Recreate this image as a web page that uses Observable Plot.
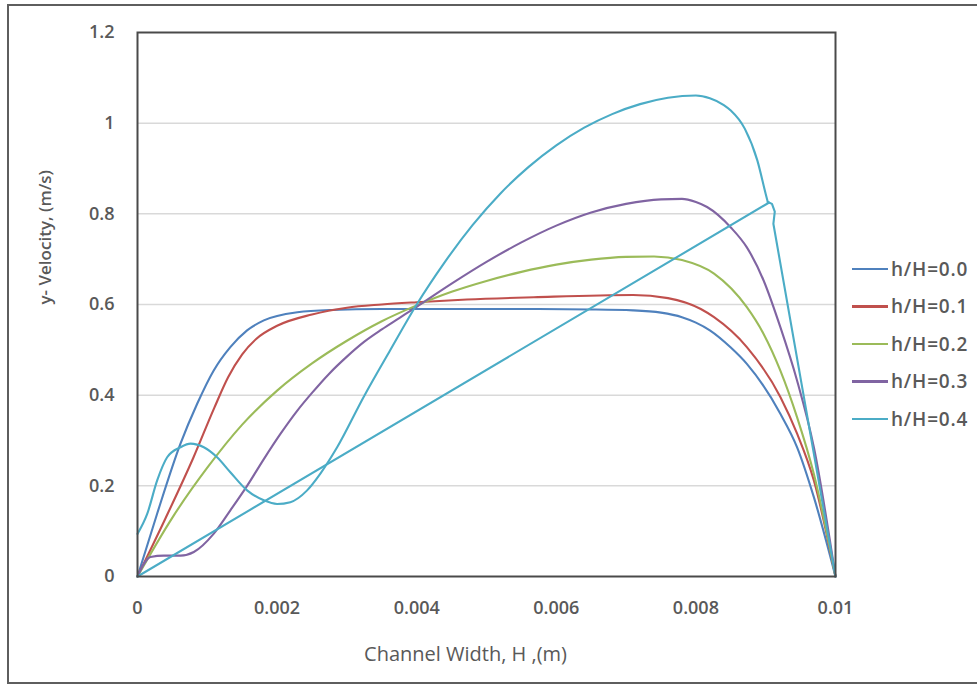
<!DOCTYPE html>
<html>
<head>
<meta charset="utf-8">
<script src="https://cdn.jsdelivr.net/npm/d3@7"></script>
<script src="https://cdn.jsdelivr.net/npm/@observablehq/plot@0.6"></script>
<style>
  body { margin: 0; background: #fff; }
  #chart { position: relative; width: 977px; height: 686px; overflow: hidden; font-family: "Open Sans", sans-serif; }
  #outline { position: absolute; left: 7px; top: 4px; width: 1000px; height: 680px; border: 2px solid #5e5e5e; border-right: none; box-sizing: border-box; pointer-events: none; }
  #legend { position: absolute; left: 852px; top: 250px; }
  .item { display: flex; align-items: center; height: 37.5px; }
  .swatch { width: 36px; height: 2.5px; margin-right: 3px; }
  .name { font-size: 19px; font-weight: 600; color: #595959; letter-spacing: 0.8px; }
</style>
</head>
<body>
<div id="chart"><div id="outline"></div></div>
<script>
// Axis ticks and their labels
const xTicks = [0, 0.002, 0.004, 0.006, 0.008, 0.01];
const xTickLabels = ["0", "0.002", "0.004", "0.006", "0.008", "0.01"];
const yTicks = [0, 0.2, 0.4, 0.6, 0.8, 1.0, 1.2];
const yTickLabels = ["0", "0.2", "0.4", "0.6", "0.8", "1", "1.2"];
const gridValues = [0.2, 0.4, 0.6, 0.8, 1.0];

// Series names and colours
const seriesNames = ["h/H=0.0", "h/H=0.1", "h/H=0.2", "h/H=0.3", "h/H=0.4"];
const seriesColors = ["#4F81BD", "#C0504D", "#9BBB59", "#8064A2", "#4BACC6"];

// y-velocity profiles across the channel: [x (m), v (m/s)]
const hH00 = [[0,0],[0.00028,0.138],[0.000616,0.293],[0.000855,0.381],[0.00109,0.454],[0.00133,0.506],
  [0.00157,0.543],[0.00181,0.565],[0.00229,0.583],[0.00277,0.588],[0.0035,0.59],[0.0045,0.59],
  [0.0055,0.59],[0.0065,0.589],[0.0071,0.587],[0.0075,0.582],[0.0078,0.572],[0.008,0.56],
  [0.0082,0.543],[0.0085,0.505],[0.00873,0.469],[0.00921,0.359],[0.00945,0.285],[0.00969,0.175],[0.01,0]];
const hH01 = [[0,0],[0.0004,0.128],[0.0008,0.262],[0.0011,0.372],[0.0013,0.44],[0.0015,0.49],
  [0.0017,0.524],[0.002,0.553],[0.0025,0.578],[0.003,0.593],[0.0035,0.6],[0.004,0.605],
  [0.00472,0.611],[0.00568,0.616],[0.0071,0.621],[0.0076,0.614],[0.00807,0.59],[0.00826,0.572],
  [0.00873,0.506],[0.00921,0.396],[0.00945,0.315],[0.00969,0.212],[0.01,0]];
const hH02 = [[0,0],[0.0005,0.13],[0.001,0.24],[0.0015,0.335],[0.002,0.41],[0.0025,0.47],
  [0.003,0.52],[0.0035,0.563],[0.004,0.598],[0.0045,0.628],[0.005,0.652],[0.0055,0.672],
  [0.006,0.688],[0.0065,0.699],[0.007,0.705],[0.0074,0.706],[0.0078,0.698],[0.00826,0.668],
  [0.00873,0.594],[0.00897,0.535],[0.00921,0.454],[0.00945,0.351],[0.00969,0.226],[0.01,0]];
const hH03 = [[0,0],[0.000186,0.043],[0.000377,0.046],[0.000616,0.046],[0.000807,0.054],[0.00109,0.094],
  [0.00133,0.146],[0.00157,0.2],[0.00181,0.259],[0.00205,0.315],[0.00229,0.366],[0.0025,0.405],
  [0.00275,0.448],[0.003,0.485],[0.00325,0.518],[0.0035,0.545],[0.00375,0.57],[0.004,0.595],
  [0.0045,0.646],[0.005,0.694],[0.0055,0.737],[0.006,0.774],[0.0065,0.803],[0.007,0.822],
  [0.0075,0.832],[0.0078,0.833],[0.008,0.826],[0.00816,0.815],[0.0085,0.77],[0.00873,0.726],
  [0.00897,0.653],[0.00921,0.55],[0.00945,0.432],[0.00969,0.285],[0.01,0]];
// h/H=0.4: smooth profile, then a short hook and straight drop to the wall,
// plus a straight chord back to the origin
const hH04 = [[0,0.094],[0.000139,0.138],[0.000282,0.212],[0.000425,0.263],[0.000616,0.285],[0.00076,0.293],
  [0.00095,0.285],[0.00114,0.263],[0.00133,0.23],[0.00157,0.19],[0.00181,0.168],[0.002,0.16],
  [0.00219,0.164],[0.00243,0.19],[0.00262,0.227],[0.00286,0.285],[0.00324,0.396],[0.00362,0.499],
  [0.004,0.6],[0.0044,0.693],[0.0048,0.775],[0.0052,0.845],[0.0056,0.903],[0.006,0.951],
  [0.0064,0.99],[0.0068,1.02],[0.0072,1.042],[0.0076,1.056],[0.008,1.061],[0.0082,1.055],
  [0.0084,1.04],[0.0085,1.028],[0.0087,0.988],[0.00888,0.918],[0.009,0.844],[0.00903,0.826]];
const hH04Tail = [[0.00903,0.826],[0.00909,0.822],[0.00913,0.805],[0.00911,0.778],[0.01,0]];
const hH04Chord = [[0,0],[0.00905,0.825]];

const smoothRows = [];
[hH00, hH01, hH02, hH03, hH04].forEach((pts, i) =>
  pts.forEach(([x, y]) => smoothRows.push({series: seriesNames[i], x, y})));
const straightRows = [];
hH04Tail.forEach(([x, y]) => straightRows.push({series: seriesNames[4], part: "tail", x, y}));
hH04Chord.forEach(([x, y]) => straightRows.push({series: seriesNames[4], part: "chord", x, y}));

const xLabel = new Map(xTicks.map((t, i) => [t, xTickLabels[i]]));
const yLabel = new Map(yTicks.map((t, i) => [t, yTickLabels[i]]));

const chart = Plot.plot({
  width: 977,
  height: 686,
  marginLeft: 137,
  marginRight: 142,
  marginTop: 32,
  marginBottom: 110,
  style: {fontFamily: "'Open Sans', sans-serif", color: "#595959", background: "#fff"},
  x: {domain: [0, 0.01]},
  y: {domain: [0, 1.2]},
  color: {domain: seriesNames, range: seriesColors},
  marks: [
    Plot.ruleY(gridValues, {stroke: "#d9d9d9", strokeWidth: 1.5}),
    Plot.line(smoothRows, {x: "x", y: "y", z: "series", stroke: "series",
      curve: "monotone-x", strokeWidth: 2.1}),
    Plot.line(straightRows, {x: "x", y: "y", z: "part", stroke: "series",
      curve: "linear", strokeWidth: 2.1}),
    Plot.frame({stroke: "#4a4a4a", strokeWidth: 2}),
    Plot.axisX(xTicks, {tickSize: 0, tickPadding: 25, tickFormat: d => xLabel.get(d),
      fontSize: 18, fontWeight: 600, label: null}),
    Plot.axisY(yTicks, {tickSize: 0, tickPadding: 23, tickFormat: d => yLabel.get(d),
      fontSize: 18, fontWeight: 600, label: null}),
    Plot.text(["Channel Width, H ,(m)"], {text: d => d, frameAnchor: "bottom", dy: 84, dx: -21,
      fontSize: 20, fill: "#595959"}),
    Plot.text(["y- Velocity, (m/s)"], {text: d => d, frameAnchor: "left", dx: -92, rotate: -90,
      fontSize: 17, fontWeight: 600, fill: "#595959"})
  ]
});

const host = document.getElementById("chart");
host.insertBefore(chart, host.firstChild);

// Legend with line swatches
const legend = document.createElement("div");
legend.id = "legend";
seriesNames.forEach((name, i) => {
  const item = document.createElement("div");
  item.className = "item";
  const sw = document.createElement("div");
  sw.className = "swatch";
  sw.style.background = seriesColors[i];
  const label = document.createElement("span");
  label.className = "name";
  label.textContent = name;
  item.appendChild(sw);
  item.appendChild(label);
  legend.appendChild(item);
});
host.appendChild(legend);
</script>
</body>
</html>
